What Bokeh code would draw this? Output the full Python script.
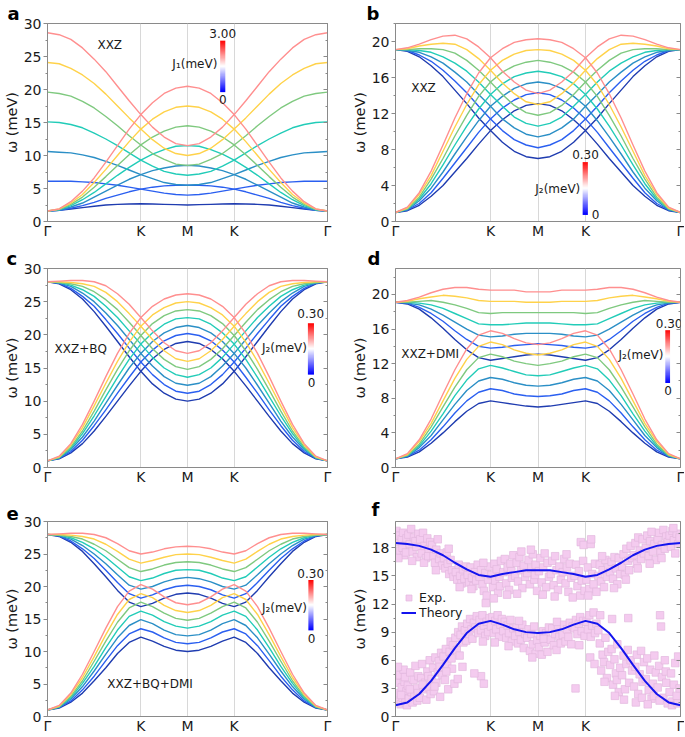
import numpy as np
from bokeh.plotting import figure
from bokeh.layouts import row, column
from bokeh.models import (Range1d, FixedTicker, SingleIntervalTicker, LinearAxis, Label,
                          LinearColorMapper, Legend, LegendItem)
from bokeh.embed import file_html
from bokeh.resources import INLINE

# ---------------- data ----------------
# path coordinate along Gamma-K-M (half path; second half mirrors M-K-Gamma)
Q_HALF = [0, 0.25, 0.5, 0.75, 1.0, 1.25, 1.5, 1.75, 2.0, 2.25, 2.5, 2.75, 3.0]
PATH_TICKS = [0, 2, 3, 4, 6]
PATH_LABELS = ["Γ", "K", "M", "K", "Γ"]

# panel a: J1 = 0, 0.5, ..., 3.0 meV (each: branch starting low / high at Gamma)
a_J1_000 = [[1.6, 1.7, 1.9, 2.1, 2.3, 2.5, 2.6, 2.65, 2.7, 2.65, 2.6, 2.55, 2.5]]
a_J1_050 = [[1.6, 1.7, 2.0, 2.4, 2.9, 3.5, 4.0, 4.5, 4.9, 5.2, 5.4, 5.5, 5.5],
            [6.1, 6.1, 6.1, 6.0, 5.9, 5.7, 5.5, 5.2, 4.9, 4.6, 4.3, 4.1, 4.0]]
a_J1_100 = [[1.6, 1.7, 2.2, 2.8, 3.7, 4.6, 5.5, 6.4, 7.1, 7.7, 8.1, 8.4, 8.5],
            [10.6, 10.5, 10.4, 10.1, 9.7, 9.1, 8.5, 7.8, 7.1, 6.5, 5.9, 5.6, 5.5]]
a_J1_150 = [[1.6, 1.8, 2.4, 3.3, 4.4, 5.7, 7.0, 8.2, 9.3, 10.2, 10.9, 11.4, 11.5],
            [15.1, 15.0, 14.7, 14.2, 13.4, 12.5, 11.5, 10.4, 9.3, 8.4, 7.6, 7.2, 7.0]]
a_J1_200 = [[1.6, 1.8, 2.6, 3.7, 5.2, 6.8, 8.5, 10.1, 11.6, 12.8, 13.7, 14.3, 14.5],
            [19.6, 19.4, 19.0, 18.2, 17.2, 15.9, 14.5, 13.0, 11.6, 10.3, 9.4, 8.7, 8.5]]
a_J1_250 = [[1.6, 1.9, 2.8, 4.1, 5.9, 7.9, 10.0, 12.1, 14.0, 15.5, 16.6, 17.3, 17.5],
            [24.1, 23.9, 23.2, 22.2, 20.9, 19.3, 17.5, 15.7, 14.0, 12.4, 11.1, 10.3, 10.0]]
a_J1_300 = [[1.6, 1.9, 3.0, 4.6, 6.6, 9.0, 11.5, 14.0, 16.2, 18.0, 19.4, 20.2, 20.5],
            [28.6, 28.3, 27.6, 26.3, 24.6, 22.7, 20.5, 18.3, 16.2, 14.3, 12.8, 11.8, 11.5]]

# panel b: XXZ, J2 = 0 ... 0.30 meV
b_J2_000 = [[1.0, 1.2, 1.8, 2.8, 4.0, 5.5, 7.0, 8.6, 10.1, 11.3, 12.3, 12.9, 13.1],
            [19.1, 18.9, 18.3, 17.3, 16.1, 14.6, 13.1, 11.5, 10.1, 8.8, 7.8, 7.2, 7.0]]
b_J2_005 = [[1.0, 1.3, 2.0, 3.2, 4.8, 6.5, 8.2, 9.9, 11.4, 12.6, 13.5, 14.1, 14.3],
            [19.1, 19.0, 18.5, 17.8, 16.8, 15.6, 14.3, 12.8, 11.4, 10.1, 9.1, 8.5, 8.2]]
b_J2_010 = [[1.0, 1.3, 2.3, 3.7, 5.5, 7.5, 9.4, 11.2, 12.8, 13.9, 14.8, 15.3, 15.5],
            [19.1, 19.0, 18.8, 18.3, 17.6, 16.6, 15.5, 14.1, 12.8, 11.4, 10.4, 9.7, 9.4]]
b_J2_015 = [[1.0, 1.4, 2.5, 4.2, 6.3, 8.5, 10.6, 12.5, 14.1, 15.3, 16.1, 16.5, 16.7],
            [19.1, 19.1, 19.0, 18.8, 18.3, 17.6, 16.7, 15.5, 14.1, 12.8, 11.6, 10.9, 10.6]]
b_J2_020 = [[1.0, 1.4, 2.7, 4.7, 7.0, 9.5, 11.8, 13.9, 15.5, 16.6, 17.3, 17.7, 17.9],
            [19.1, 19.1, 19.2, 19.2, 19.1, 18.7, 17.9, 16.8, 15.5, 14.1, 12.9, 12.1, 11.8]]
b_J2_025 = [[1.0, 1.5, 3.0, 5.1, 7.8, 10.5, 13.0, 15.2, 16.8, 17.9, 18.6, 19.0, 19.1],
            [19.1, 19.2, 19.5, 19.7, 19.8, 19.7, 19.1, 18.1, 16.8, 15.4, 14.2, 13.3, 13.0]]
b_J2_030 = [[1.0, 1.6, 3.2, 5.6, 8.5, 11.5, 14.2, 16.5, 18.2, 19.2, 19.9, 20.2, 20.3],
            [19.1, 19.3, 19.7, 20.2, 20.6, 20.7, 20.3, 19.4, 18.2, 16.7, 15.5, 14.6, 14.2]]

# panel c: XXZ+BQ
c_J2_000 = [[1.0, 1.3, 2.2, 3.6, 5.5, 7.7, 10.0, 12.3, 14.5, 16.4, 17.8, 18.7, 19.0],
            [28.0, 27.7, 26.8, 25.4, 23.5, 21.3, 19.0, 16.7, 14.5, 12.6, 11.2, 10.3, 10.0]]
c_J2_005 = [[1.0, 1.4, 2.4, 4.1, 6.3, 8.7, 11.2, 13.6, 15.9, 17.7, 19.1, 19.9, 20.2],
            [28.0, 27.8, 27.0, 25.8, 24.3, 22.3, 20.2, 18.0, 15.9, 14.0, 12.5, 11.5, 11.2]]
c_J2_010 = [[1.0, 1.4, 2.7, 4.6, 7.0, 9.7, 12.4, 15.0, 17.2, 19.0, 20.3, 21.1, 21.4],
            [28.0, 27.8, 27.3, 26.3, 25.0, 23.3, 21.4, 19.3, 17.2, 15.3, 13.7, 12.7, 12.4]]
c_J2_015 = [[1.0, 1.5, 2.9, 5.1, 7.8, 10.7, 13.6, 16.3, 18.6, 20.3, 21.6, 22.4, 22.6],
            [28.0, 27.9, 27.5, 26.8, 25.8, 24.3, 22.6, 20.6, 18.6, 16.6, 15.0, 14.0, 13.6]]
c_J2_020 = [[1.0, 1.5, 3.1, 5.5, 8.5, 11.7, 14.8, 17.6, 19.9, 21.7, 22.9, 23.6, 23.8],
            [28.0, 27.9, 27.7, 27.3, 26.5, 25.3, 23.8, 21.9, 19.9, 17.9, 16.3, 15.2, 14.8]]
c_J2_025 = [[1.0, 1.6, 3.4, 6.0, 9.3, 12.7, 16.0, 18.9, 21.3, 23.0, 24.1, 24.8, 25.0],
            [28.0, 28.0, 27.9, 27.7, 27.3, 26.4, 25.0, 23.2, 21.3, 19.3, 17.6, 16.4, 16.0]]
c_J2_030 = [[1.0, 1.7, 3.6, 6.5, 10.0, 13.7, 17.2, 20.2, 22.6, 24.3, 25.4, 26.0, 26.2],
            [28.0, 28.1, 28.2, 28.2, 28.0, 27.4, 26.2, 24.6, 22.6, 20.6, 18.8, 17.6, 17.2]]

# panel d: XXZ+DMI (upper band, lower band)
d_J2_000 = [[19.1, 18.9, 18.3, 17.3, 16.1, 14.8, 13.6, 12.7, 12.4, 12.6, 12.8, 13.0, 13.1],
            [1.0, 1.2, 1.8, 2.8, 4.0, 5.3, 6.5, 7.4, 7.7, 7.5, 7.3, 7.1, 7.0]]
d_J2_005 = [[19.1, 19.0, 18.5, 17.8, 16.9, 15.8, 14.8, 14.0, 13.8, 13.9, 14.1, 14.2, 14.3],
            [1.0, 1.3, 2.0, 3.2, 4.7, 6.3, 7.7, 8.7, 9.1, 8.9, 8.5, 8.3, 8.2]]
d_J2_010 = [[19.1, 19.0, 18.8, 18.3, 17.6, 16.8, 16.0, 15.3, 15.1, 15.2, 15.4, 15.5, 15.5],
            [1.0, 1.3, 2.3, 3.7, 5.5, 7.3, 8.9, 10.0, 10.4, 10.2, 9.8, 9.5, 9.4]]
d_J2_015 = [[19.1, 19.1, 19.0, 18.8, 18.4, 17.8, 17.2, 16.6, 16.5, 16.5, 16.6, 16.7, 16.7],
            [1.0, 1.4, 2.5, 4.2, 6.2, 8.3, 10.1, 11.4, 11.8, 11.5, 11.1, 10.7, 10.6]]
d_J2_020 = [[19.1, 19.1, 19.2, 19.3, 19.1, 18.8, 18.4, 17.9, 17.8, 17.9, 17.9, 17.9, 17.9],
            [1.0, 1.4, 2.7, 4.7, 7.0, 9.3, 11.3, 12.7, 13.1, 12.8, 12.3, 12.0, 11.8]]
d_J2_025 = [[19.1, 19.2, 19.5, 19.7, 19.9, 19.8, 19.6, 19.3, 19.2, 19.2, 19.2, 19.1, 19.1],
            [1.0, 1.5, 3.0, 5.1, 7.7, 10.3, 12.5, 14.0, 14.5, 14.2, 13.6, 13.2, 13.0]]
d_J2_030 = [[19.1, 19.3, 19.7, 20.2, 20.6, 20.8, 20.8, 20.6, 20.5, 20.5, 20.5, 20.3, 20.3],
            [1.0, 1.6, 3.2, 5.6, 8.5, 11.3, 13.7, 15.3, 15.8, 15.5, 14.9, 14.4, 14.2]]

# panel e: XXZ+BQ+DMI (upper band, lower band)
e_J2_000 = [[28.0, 27.7, 26.8, 25.4, 23.5, 21.5, 19.4, 17.6, 16.9, 17.4, 18.2, 18.8, 19.0],
            [1.0, 1.3, 2.2, 3.6, 5.5, 7.5, 9.7, 11.4, 12.2, 11.6, 10.8, 10.2, 10.0]]
e_J2_005 = [[28.0, 27.8, 27.0, 25.8, 24.3, 22.5, 20.6, 18.9, 18.2, 18.7, 19.5, 20.0, 20.2],
            [1.0, 1.4, 2.4, 4.1, 6.2, 8.6, 10.9, 12.7, 13.5, 13.0, 12.1, 11.4, 11.2]]
e_J2_010 = [[28.0, 27.8, 27.3, 26.3, 25.0, 23.5, 21.8, 20.2, 19.6, 20.0, 20.7, 21.2, 21.4],
            [1.0, 1.4, 2.7, 4.6, 7.0, 9.6, 12.1, 14.0, 14.9, 14.3, 13.3, 12.6, 12.4]]
e_J2_015 = [[28.0, 27.9, 27.5, 26.8, 25.8, 24.5, 23.0, 21.5, 20.9, 21.3, 22.0, 22.5, 22.6],
            [1.0, 1.5, 2.9, 5.1, 7.7, 10.6, 13.3, 15.4, 16.2, 15.6, 14.6, 13.9, 13.6]]
e_J2_020 = [[28.0, 27.9, 27.7, 27.3, 26.5, 25.5, 24.2, 22.9, 22.3, 22.7, 23.3, 23.7, 23.8],
            [1.0, 1.5, 3.1, 5.5, 8.5, 11.6, 14.5, 16.7, 17.6, 16.9, 15.9, 15.1, 14.8]]
e_J2_025 = [[28.0, 28.0, 27.9, 27.7, 27.3, 26.5, 25.4, 24.2, 23.6, 24.0, 24.5, 24.9, 25.0],
            [1.0, 1.6, 3.4, 6.0, 9.2, 12.6, 15.7, 18.0, 18.9, 18.3, 17.1, 16.3, 16.0]]
e_J2_030 = [[28.0, 28.1, 28.2, 28.2, 28.0, 27.5, 26.6, 25.5, 25.0, 25.3, 25.8, 26.1, 26.2],
            [1.0, 1.7, 3.6, 6.5, 10.0, 13.6, 16.9, 19.3, 20.3, 19.6, 18.4, 17.5, 17.2]]

# panel f: theory
f_theory_upper = [18.5, 18.4, 18.2, 17.8, 17.2, 16.4, 15.7, 15.1, 14.9, 15.2, 15.4, 15.6, 15.6]
f_theory_lower = [1.2, 1.5, 2.4, 3.8, 5.5, 7.3, 8.9, 9.9, 10.2, 9.8, 9.3, 9.0, 8.9]

# panel f: experimental points (q, omega)
exp_upper = [
    (0.02, 19.8), (0.05, 18.6), (0.08, 19.3), (0.10, 17.7), (0.13, 18.9), (0.16, 19.6), (0.18, 17.2),
    (0.20, 18.2), (0.23, 19.0), (0.06, 16.9), (0.15, 18.0), (0.22, 17.5),
    (0.27, 19.4), (0.30, 18.4), (0.33, 20.0), (0.36, 17.6), (0.39, 19.1), (0.42, 18.7), (0.45, 17.0),
    (0.48, 19.5), (0.35, 16.6), (0.44, 18.1),
    (0.52, 18.9), (0.55, 17.4), (0.58, 19.6), (0.61, 18.2), (0.64, 16.9), (0.67, 19.0), (0.70, 17.8),
    (0.73, 18.6), (0.60, 16.4), (0.69, 17.1),
    (0.77, 18.3), (0.80, 17.1), (0.83, 16.4), (0.86, 17.8), (0.89, 18.9), (0.92, 16.8), (0.95, 17.4),
    (0.98, 16.1), (0.85, 15.6),
    (1.02, 16.9), (1.05, 15.8), (1.08, 17.5), (1.10, 16.3), (1.13, 15.2), (1.16, 16.7), (1.19, 15.6),
    (1.22, 14.9), (1.12, 17.9),
    (1.27, 15.4), (1.30, 14.6), (1.33, 16.2), (1.36, 15.0), (1.39, 14.2), (1.42, 15.7), (1.45, 14.7),
    (1.48, 16.0), (1.35, 13.8),
    (1.52, 15.1), (1.55, 14.3), (1.58, 15.9), (1.61, 14.8), (1.64, 13.9), (1.67, 15.4), (1.70, 14.5),
    (1.73, 16.2), (1.60, 13.6),
    (1.77, 14.9), (1.80, 15.6), (1.83, 14.1), (1.86, 13.4), (1.89, 15.3), (1.92, 12.9), (1.95, 14.6),
    (1.98, 16.0), (1.90, 12.1), (1.85, 16.4),
    (2.02, 15.1), (2.05, 13.8), (2.08, 16.3), (2.10, 14.5), (2.13, 15.7), (2.16, 13.2), (2.19, 14.9),
    (2.22, 16.6), (2.07, 12.6), (2.20, 13.9),
    (2.27, 15.4), (2.30, 16.8), (2.33, 14.2), (2.36, 15.9), (2.39, 13.5), (2.42, 16.3), (2.45, 14.8),
    (2.48, 17.2), (2.35, 13.0), (2.44, 15.5),
    (2.52, 15.0), (2.55, 16.4), (2.58, 14.4), (2.61, 17.0), (2.64, 15.6), (2.67, 13.7), (2.70, 16.1),
    (2.73, 14.9), (2.65, 17.6), (2.56, 13.1),
    (2.77, 15.3), (2.80, 16.7), (2.83, 14.1), (2.86, 15.8), (2.89, 17.3), (2.92, 14.6), (2.95, 16.2),
    (2.98, 13.4), (2.85, 17.8), (2.94, 15.1),
    (3.02, 15.5), (3.05, 16.9), (3.08, 14.3), (3.11, 15.9), (3.14, 17.4), (3.17, 13.8), (3.20, 16.4),
    (3.23, 14.9), (3.10, 13.0),
    (3.27, 15.2), (3.30, 16.6), (3.33, 14.0), (3.36, 17.1), (3.39, 15.6), (3.42, 13.5), (3.45, 16.0),
    (3.48, 14.6), (3.35, 12.8),
    (3.52, 15.4), (3.55, 16.8), (3.58, 14.2), (3.61, 15.9), (3.64, 13.3), (3.67, 16.3), (3.70, 14.8),
    (3.73, 12.7), (3.60, 17.3),
    (3.77, 15.0), (3.80, 16.2), (3.83, 13.9), (3.86, 15.5), (3.89, 12.9), (3.92, 14.5), (3.95, 16.6),
    (3.98, 13.4), (3.90, 18.6), (3.96, 18.3),
    (4.02, 14.6), (4.05, 15.9), (4.08, 13.6), (4.11, 18.4), (4.14, 15.2), (4.17, 14.1), (4.20, 16.3),
    (4.23, 13.3), (4.12, 18.9), (4.06, 12.9),
    (4.27, 15.0), (4.30, 16.2), (4.33, 14.4), (4.36, 15.6), (4.39, 13.8), (4.42, 16.7), (4.45, 14.9),
    (4.48, 15.9), (4.35, 17.1),
    (4.52, 15.4), (4.55, 16.5), (4.58, 14.7), (4.61, 17.0), (4.64, 15.8), (4.67, 14.1), (4.70, 16.9),
    (4.73, 15.2), (4.60, 13.7),
    (4.77, 16.0), (4.80, 17.3), (4.83, 15.1), (4.86, 17.9), (4.89, 16.6), (4.92, 15.6), (4.95, 18.2),
    (4.98, 16.9), (4.85, 14.6),
    (5.02, 17.2), (5.05, 18.5), (5.08, 16.3), (5.11, 19.1), (5.14, 17.7), (5.17, 16.8), (5.20, 18.9),
    (5.23, 17.4), (5.10, 15.8),
    (5.27, 18.0), (5.30, 19.3), (5.33, 17.1), (5.36, 18.7), (5.39, 19.7), (5.42, 17.6), (5.45, 18.4),
    (5.48, 16.7), (5.35, 16.3),
    (5.52, 18.9), (5.55, 19.6), (5.58, 17.5), (5.61, 18.3), (5.64, 19.9), (5.67, 17.9), (5.70, 19.2),
    (5.73, 18.6), (5.60, 16.9),
    (5.77, 19.3), (5.80, 18.1), (5.83, 19.8), (5.86, 18.8), (5.89, 17.4), (5.92, 19.5), (5.95, 18.4),
    (5.98, 19.1), (5.85, 20.1),
]
exp_lower = [
    (0.02, 3.6), (0.04, 1.6), (0.07, 2.5), (0.09, 4.4), (0.11, 1.3), (0.13, 3.1), (0.15, 2.0), (0.17, 5.0),
    (0.19, 3.7), (0.21, 1.5), (0.23, 2.7), (0.05, 5.3), (0.12, 2.3), (0.20, 4.2), (0.24, 1.2),
    (0.26, 3.3), (0.28, 1.9), (0.31, 4.7), (0.34, 2.6), (0.36, 1.5), (0.38, 3.9), (0.40, 2.2), (0.42, 5.4),
    (0.44, 3.0), (0.46, 1.7), (0.48, 4.3), (0.30, 2.9), (0.47, 2.5),
    (0.51, 2.0), (0.54, 4.1), (0.56, 5.6), (0.59, 2.9), (0.62, 3.6), (0.65, 1.8), (0.67, 4.8), (0.70, 3.1),
    (0.72, 6.0), (0.74, 2.4), (0.57, 3.4), (0.69, 4.3),
    (0.76, 4.0), (0.79, 5.2), (0.81, 2.7), (0.84, 6.3), (0.86, 3.6), (0.89, 4.7), (0.91, 5.9), (0.94, 2.1),
    (0.96, 6.8), (0.99, 4.4), (0.82, 3.2), (0.93, 5.3),
    (1.01, 6.4), (1.04, 3.9), (1.06, 7.2), (1.09, 5.6), (1.11, 2.9), (1.14, 6.9), (1.16, 8.0), (1.19, 5.1),
    (1.21, 7.6), (1.24, 3.5), (1.07, 4.8), (1.18, 6.2),
    (1.26, 8.4), (1.29, 7.1), (1.32, 9.0), (1.35, 6.5), (1.37, 8.7), (1.40, 9.6), (1.43, 7.9), (1.46, 9.2),
    (1.49, 8.1), (1.31, 4.0), (1.41, 5.3),
    (1.51, 9.9), (1.54, 8.8), (1.57, 10.4), (1.60, 9.3), (1.62, 8.3), (1.65, 10.0), (1.68, 9.5), (1.71, 10.7),
    (1.74, 8.9), (1.80, 4.3), (1.86, 3.5), (1.66, 4.6),
    (1.77, 10.3), (1.80, 9.2), (1.83, 10.8), (1.86, 9.7), (1.89, 8.6), (1.92, 10.1), (1.95, 9.0), (1.98, 10.5),
    (1.84, 8.0),
    (2.01, 9.6), (2.04, 10.6), (2.07, 8.9), (2.10, 10.2), (2.12, 9.3), (2.15, 10.8), (2.18, 8.5), (2.21, 9.8),
    (2.24, 10.4), (2.09, 7.9),
    (2.27, 9.1), (2.30, 10.1), (2.33, 8.4), (2.36, 9.7), (2.39, 8.9), (2.42, 10.3), (2.45, 8.0), (2.48, 9.4),
    (2.38, 7.5),
    (2.52, 8.6), (2.55, 9.5), (2.58, 7.8), (2.61, 9.0), (2.64, 8.2), (2.67, 9.8), (2.70, 7.3), (2.73, 8.8),
    (2.60, 10.2),
    (2.77, 8.4), (2.80, 9.3), (2.83, 7.0), (2.86, 8.8), (2.89, 7.7), (2.92, 9.6), (2.95, 6.7), (2.98, 8.1),
    (2.88, 6.3),
    (3.02, 7.4), (3.05, 8.6), (3.08, 6.6), (3.11, 9.1), (3.14, 7.9), (3.17, 8.9), (3.20, 6.9), (3.23, 9.5),
    (3.12, 8.3),
    (3.27, 8.2), (3.30, 9.4), (3.33, 7.6), (3.36, 8.8), (3.39, 7.1), (3.42, 9.7), (3.45, 8.5), (3.48, 7.8),
    (3.40, 10.1),
    (3.52, 8.7), (3.55, 9.8), (3.58, 8.0), (3.61, 9.3), (3.64, 8.5), (3.67, 10.0), (3.70, 7.7), (3.73, 9.6),
    (3.79, 3.0),
    (3.77, 9.4), (3.80, 10.3), (3.83, 8.8), (3.86, 9.9), (3.89, 10.6), (3.92, 9.1), (3.95, 10.2), (3.98, 8.6),
    (3.87, 7.6),
    (4.02, 10.1), (4.05, 9.3), (4.08, 10.8), (4.11, 8.5), (4.14, 9.7), (4.17, 11.1), (4.20, 8.9), (4.23, 9.9),
    (4.10, 6.3), (4.19, 5.6),
    (4.27, 9.2), (4.30, 7.8), (4.33, 4.9), (4.36, 6.6), (4.39, 5.8), (4.42, 8.4), (4.45, 4.1), (4.48, 6.9),
    (4.31, 10.8), (4.40, 3.7),
    (4.52, 5.5), (4.55, 7.2), (4.58, 3.4), (4.61, 6.1), (4.64, 4.6), (4.67, 7.7), (4.70, 2.6), (4.73, 5.2),
    (4.56, 10.4), (4.66, 3.9), (4.62, 2.2),
    (4.77, 4.4), (4.80, 6.5), (4.83, 2.9), (4.86, 5.6), (4.89, 7.1), (4.92, 3.6), (4.95, 6.0), (4.98, 4.9),
    (4.81, 1.8), (4.90, 10.5),
    (5.02, 3.2), (5.05, 5.3), (5.08, 6.6), (5.11, 2.4), (5.14, 4.5), (5.17, 7.0), (5.20, 3.7), (5.23, 5.8),
    (5.06, 1.5), (5.19, 2.0),
    (5.27, 4.0), (5.30, 6.2), (5.33, 2.8), (5.36, 5.0), (5.39, 1.9), (5.42, 3.5), (5.45, 6.5), (5.48, 4.7),
    (5.31, 1.3), (5.44, 2.2),
    (5.52, 3.1), (5.55, 5.4), (5.57, 10.8), (5.59, 9.6), (5.61, 4.2), (5.64, 2.0), (5.67, 6.0), (5.70, 3.6),
    (5.73, 1.4), (5.56, 1.7), (5.69, 4.8),
    (5.77, 2.6), (5.80, 4.6), (5.83, 1.6), (5.86, 3.4), (5.89, 5.7), (5.92, 2.2), (5.95, 6.4), (5.98, 3.0),
    (5.82, 1.2), (5.94, 1.4),
]

# ---------------- styling ----------------
FONT = "DejaVu Sans"
FRAME = "#8a8a8a"
GRID = "#d8d8d8"
TXT = "#1a1a1a"
LINE_COLORS = ["#1f3cb0", "#2a5ff0", "#2b8fc6", "#22ccb8", "#7fc97f", "#ffd24a", "#ff8f8f"]

Q_FULL = Q_HALF + [6 - q for q in Q_HALF[-2::-1]]


def full_path(vals):
    return list(vals) + list(vals[-2::-1])


def blend(c1, c2, t):
    return "#%02x%02x%02x" % tuple(int(round(a + (b - a) * t)) for a, b in zip(c1, c2))


PAL = [blend((0, 0, 255), (255, 255, 255), i / 49) for i in range(50)] + \
      [blend((255, 255, 255), (255, 0, 0), i / 49) for i in range(50)]
CMAP = LinearColorMapper(palette=PAL, low=0, high=1)
GRAD = np.linspace(0, 1, 100).reshape(100, 1)


def make_panel(width, height, bl, br, bt, bb, ymax, step, letter, letter_dx, letter_gap):
    p = figure(width=width, height=height, x_range=Range1d(0, 6), y_range=Range1d(0, ymax),
               output_backend="svg", toolbar_location=None,
               min_border_left=bl, min_border_right=br, min_border_top=bt, min_border_bottom=bb)
    p.background_fill_color = "white"
    p.border_fill_color = "white"
    p.outline_line_color = FRAME
    p.outline_line_width = 1
    # panel letter as title
    p.title.text = letter
    p.title.align = "left"
    p.title.offset = letter_dx
    p.title.standoff = letter_gap
    p.title.text_font = FONT
    p.title.text_font_size = "18px"
    p.title.text_font_style = "bold"
    p.title.text_color = "black"
    xa = p.xaxis[0]
    xa.ticker = FixedTicker(ticks=PATH_TICKS)
    xa.major_label_overrides = {t: l for t, l in zip(PATH_TICKS, PATH_LABELS)}
    xa.major_tick_out = 0
    xa.major_tick_in = 0
    xa.minor_tick_out = 0
    xa.minor_tick_in = 0
    xa.axis_line_color = FRAME
    xa.major_label_text_font = FONT
    xa.major_label_text_font_size = "14px"
    xa.major_label_text_color = TXT
    xa.major_label_standoff = 1
    ya = p.yaxis[0]
    ya.ticker = SingleIntervalTicker(interval=step, num_minor_ticks=2)
    ya.axis_label = "ω (meV)"
    ya.axis_label_text_font = FONT
    ya.axis_label_text_font_size = "14.5px"
    ya.axis_label_text_font_style = "normal"
    ya.axis_label_text_color = TXT
    ya.axis_label_standoff = 1
    ya.major_label_text_font = FONT
    ya.major_label_text_font_size = "14px"
    ya.major_label_text_color = TXT
    ya.major_label_standoff = 2
    ya.major_tick_out = 4
    ya.major_tick_in = 0
    ya.minor_tick_out = 2
    ya.minor_tick_in = 0
    ya.axis_line_color = FRAME
    ya.major_tick_line_color = FRAME
    ya.minor_tick_line_color = FRAME
    ra = LinearAxis(ticker=SingleIntervalTicker(interval=step, num_minor_ticks=2),
                    major_tick_in=4, major_tick_out=0, minor_tick_in=2, minor_tick_out=0,
                    major_label_text_color=None, major_label_standoff=0,
                    axis_line_color=FRAME, major_tick_line_color=FRAME, minor_tick_line_color=FRAME)
    p.add_layout(ra, "right")
    p.xgrid.ticker = FixedTicker(ticks=[2, 3, 4])
    p.xgrid.grid_line_color = GRID
    p.xgrid.grid_line_width = 1
    p.ygrid.visible = False
    return p


def txt(p, x, y, s, align="left", size="12px"):
    p.add_layout(Label(x=x, y=y, text=s, text_font=FONT, text_font_size=size,
                       text_color=TXT, text_align=align, text_baseline="middle"))


def cbar(p, x0, x1, y0, y1, top, top_xy, name, name_xy, zero_xy, zero_align="center"):
    p.image(image=[GRAD], x=x0, y=y0, dw=x1 - x0, dh=y1 - y0, color_mapper=CMAP)
    txt(p, top_xy[0], top_xy[1], top, align="center")
    txt(p, name_xy[0], name_xy[1], name, align="right")
    txt(p, zero_xy[0], zero_xy[1], "0", align=zero_align)


def draw_sets(p, sets):
    for color, branches in zip(LINE_COLORS, sets):
        for br in branches:
            p.line(Q_FULL, full_path(br), line_color=color, line_width=1.4, line_join="round")


# ---------------- panels ----------------
LW, RW = 340, 344
H1, H2, H3 = 245, 245, 246

pa = make_panel(LW, H1, 42, 13, 21, 24, 30, 5, "a", -40, 0)
draw_sets(pa, [a_J1_000, a_J1_050, a_J1_100, a_J1_150, a_J1_200, a_J1_250, a_J1_300])
txt(pa, 1.07, 26.8, "XXZ")
cbar(pa, 3.70, 3.81, 19.6, 27.4, "3.00", (3.755, 28.5), "J₁(meV)", (3.64, 23.8), (3.755, 18.5))

pb = make_panel(RW, H1, 55, 4, 21, 24, 22, 4, "b", -29, 0)
draw_sets(pb, [b_J2_000, b_J2_005, b_J2_010, b_J2_015, b_J2_020, b_J2_025, b_J2_030])
txt(pb, 0.33, 14.8, "XXZ")
cbar(pb, 3.94, 4.05, 0.73, 6.6, "0.30", (4.0, 7.4), "J₂(meV)", (3.89, 3.6), (4.13, 0.75), "left")

pc = make_panel(LW, H2, 42, 13, 22, 23, 30, 5, "c", -41, 0)
draw_sets(pc, [c_J2_000, c_J2_005, c_J2_010, c_J2_015, c_J2_020, c_J2_025, c_J2_030])
txt(pc, 0.15, 17.8, "XXZ+BQ")
cbar(pc, 5.58, 5.71, 14.0, 21.75, "0.30", (5.64, 23.2), "J₂(meV)", (5.56, 18.0), (5.66, 12.85))

pd = make_panel(RW, H2, 55, 4, 22, 23, 23, 4, "d", -28, 0)
draw_sets(pd, [d_J2_000, d_J2_005, d_J2_010, d_J2_015, d_J2_020, d_J2_025, d_J2_030])
txt(pd, 0.12, 13.1, "XXZ+DMI")
cbar(pd, 5.68, 5.78, 9.77, 15.87, "0.30", (5.76, 16.7), "J₂(meV)", (5.64, 13.06), (5.74, 8.94))

pe = make_panel(LW, H3, 42, 13, 31, 17, 30, 5, "e", -41, 4)
draw_sets(pe, [e_J2_000, e_J2_005, e_J2_010, e_J2_015, e_J2_020, e_J2_025, e_J2_030])
txt(pe, 1.28, 5.0, "XXZ+BQ+DMI")
cbar(pe, 5.59, 5.70, 13.25, 21.0, "0.30", (5.64, 21.95), "J₂(meV)", (5.56, 16.74), (5.66, 12.0))

pf = make_panel(RW, H3, 55, 4, 31, 17, 20.8, 3, "f", -24, 4)
uq, uw = zip(*exp_upper)
lq, lw = zip(*exp_lower)
sc = pf.scatter(list(uq) + list(lq), list(uw) + list(lw), marker="square", size=7.5,
                fill_color="#f4cbef", line_color="#e3b8de", line_width=0.7)
t1 = pf.line(Q_FULL, full_path(f_theory_upper), line_color="#1414ee", line_width=2)
pf.line(Q_FULL, full_path(f_theory_lower), line_color="#1414ee", line_width=2)
leg = Legend(items=[LegendItem(label="Exp.", renderers=[sc]), LegendItem(label="Theory", renderers=[t1])],
             location=(6, 96))
leg.background_fill_alpha = 0
leg.border_line_alpha = 0
leg.padding = 0
leg.margin = 0
leg.spacing = 0
leg.label_standoff = 3
leg.glyph_width = 15
leg.glyph_height = 15
leg.label_height = 15
leg.label_text_font = FONT
leg.label_text_font_size = "12.5px"
leg.label_text_color = TXT
pf.add_layout(leg)

layout = column(row(pa, pb), row(pc, pd), row(pe, pf))

with open("out.html", "w") as fh:
    fh.write(file_html(layout, INLINE))
